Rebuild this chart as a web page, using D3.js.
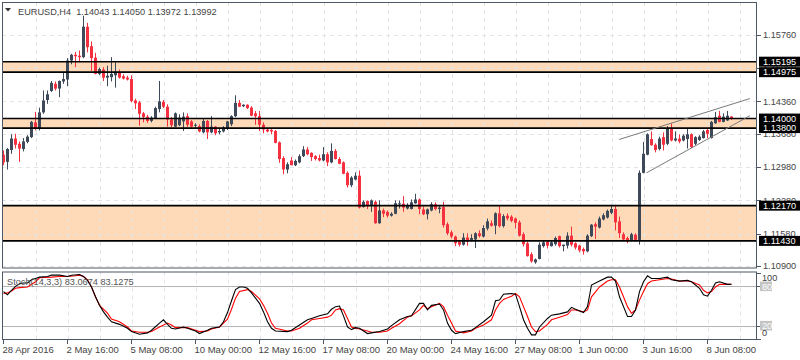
<!DOCTYPE html>
<html><head><meta charset="utf-8">
<script src="https://cdn.jsdelivr.net/npm/d3@7"></script>
<style>
html,body{margin:0;padding:0;background:#fff;}
svg{display:block;font-family:"Liberation Sans",Arial,sans-serif;}
</style></head><body>
<svg id="c" width="800" height="360"></svg>
<script>
// ---------------- DATA ----------------
const symbolTitle = "EURUSD,H4";
const lastOHLC = ["1.14043", "1.14050", "1.13972", "1.13992"];

const open = [1.1324,1.1309,1.1334,1.1358,1.1347,1.1336,1.1351,1.1361,1.1392,1.1379,
1.1413,1.1439,1.1458,1.1473,1.1463,1.1478,1.1482,1.1522,1.1534,1.1532,
1.1529,1.1593,1.1552,1.1528,1.1494,1.1503,1.1486,1.1487,1.1491,1.1498,
1.1489,1.1486,1.1483,1.1438,1.1434,1.1411,1.1404,1.1395,1.1401,1.1420,
1.1435,1.1425,1.1398,1.1383,1.1386,1.1394,1.1405,1.1394,1.1386,1.1384,
1.1371,1.1395,1.1371,1.1383,1.1371,1.1373,1.1380,1.1388,1.1405,1.1433,
1.1426,1.1429,1.1423,1.1411,1.1405,1.1387,1.1377,1.1376,1.1374,1.1350,
1.1317,1.1293,1.1312,1.1302,1.1308,1.1321,1.1335,1.1328,1.1321,1.1317,
1.1312,1.1325,1.1308,1.1332,1.1315,1.1308,1.1286,1.1260,1.1272,1.1280,
1.1214,1.1227,1.1218,1.1225,1.1180,1.1207,1.1204,1.1196,1.1200,1.1221,
1.1221,1.1211,1.1210,1.1222,1.1230,1.1209,1.1199,1.1207,1.1220,1.1210,
1.1214,1.1178,1.1161,1.1152,1.1142,1.1135,1.1150,1.1145,1.1146,1.1159,
1.1152,1.1169,1.1180,1.1175,1.1201,1.1174,1.1196,1.1194,1.1190,1.1182,
1.1157,1.1138,1.1115,1.1098,1.1105,1.1132,1.1142,1.1132,1.1136,1.1153,
1.1132,1.1133,1.1154,1.1138,1.1133,1.1126,1.1121,1.1153,1.1178,1.1171,
1.1188,1.1192,1.1202,1.1210,1.1184,1.1157,1.1149,1.1143,1.1156,1.1145,
1.1286,1.1324,1.1357,1.1345,1.1336,1.1361,1.1347,1.1380,1.1354,1.1358,
1.1354,1.1357,1.1367,1.1347,1.1355,1.1359,1.1376,1.1359,1.1390,1.1406,
1.1393,1.1396,1.14043];

const high = [1.1333,1.1338,1.1367,1.1368,1.1352,1.1359,1.1365,1.1395,1.1414,1.1423,
1.1459,1.1459,1.1479,1.1478,1.1480,1.1498,1.1527,1.1536,1.1540,1.1543,
1.1616,1.1601,1.1562,1.1538,1.1507,1.1508,1.1511,1.1529,1.1518,1.1503,
1.1493,1.1490,1.1491,1.1442,1.1437,1.1414,1.1408,1.1405,1.1425,1.1479,
1.1439,1.1430,1.1403,1.1413,1.1409,1.1413,1.1411,1.1397,1.1390,1.1388,
1.1401,1.1397,1.1405,1.1384,1.1380,1.1384,1.1395,1.1407,1.1449,1.1439,
1.1430,1.1430,1.1426,1.1416,1.1416,1.1392,1.1380,1.1378,1.1376,1.1352,
1.1321,1.1308,1.1319,1.1314,1.1325,1.1342,1.1340,1.1329,1.1323,1.1324,
1.1340,1.1329,1.1348,1.1336,1.1319,1.1310,1.1289,1.1279,1.1287,1.1291,
1.1228,1.1228,1.1230,1.1228,1.1228,1.1211,1.1207,1.1203,1.1228,1.1228,
1.1237,1.1222,1.1230,1.1242,1.1232,1.1215,1.1211,1.1224,1.1224,1.1216,
1.1225,1.1182,1.1165,1.1154,1.1144,1.1159,1.1159,1.1157,1.1161,1.1165,
1.1176,1.1190,1.1186,1.1203,1.1218,1.1199,1.1201,1.1197,1.1192,1.1186,
1.1161,1.1142,1.1119,1.1106,1.1140,1.1144,1.1144,1.1144,1.1152,1.1154,
1.1135,1.1161,1.1173,1.1140,1.1135,1.1129,1.1157,1.1178,1.1182,1.1194,
1.1201,1.1209,1.1219,1.1219,1.1194,1.1161,1.1152,1.1160,1.1159,1.1291,
1.1351,1.1369,1.1373,1.1348,1.1362,1.1371,1.1384,1.1390,1.1373,1.1367,
1.1367,1.1379,1.1369,1.1363,1.1365,1.1376,1.1380,1.1395,1.1414,1.1416,
1.1411,1.1416,1.14050];

const low = [1.1302,1.1293,1.1326,1.1337,1.1309,1.1331,1.1348,1.1359,1.1375,1.1375,
1.1410,1.1431,1.1456,1.1459,1.1445,1.1473,1.1468,1.1514,1.1508,1.1519,
1.1527,1.1539,1.1500,1.1493,1.1491,1.1479,1.1468,1.1478,1.1465,1.1484,
1.1482,1.1480,1.1434,1.1420,1.1385,1.1392,1.1391,1.1392,1.1399,1.1413,
1.1422,1.1383,1.1382,1.1382,1.1384,1.1374,1.1382,1.1380,1.1380,1.1371,
1.1369,1.1357,1.1369,1.1365,1.1367,1.1371,1.1376,1.1384,1.1403,1.1424,
1.1424,1.1420,1.1405,1.1387,1.1374,1.1369,1.1371,1.1367,1.1348,1.1307,
1.1283,1.1285,1.1302,1.1300,1.1306,1.1319,1.1323,1.1311,1.1312,1.1310,
1.1310,1.1300,1.1306,1.1314,1.1304,1.1283,1.1255,1.1256,1.1270,1.1211,
1.1213,1.1210,1.1204,1.1179,1.1179,1.1193,1.1192,1.1194,1.1199,1.1211,
1.1204,1.1209,1.1209,1.1221,1.1199,1.1197,1.1188,1.1205,1.1207,1.1201,
1.1171,1.1155,1.1148,1.1132,1.1131,1.1133,1.1133,1.1142,1.1128,1.1150,
1.1150,1.1165,1.1173,1.1157,1.1171,1.1171,1.1186,1.1182,1.1169,1.1152,
1.1131,1.1110,1.1097,1.1095,1.1104,1.1129,1.1127,1.1131,1.1133,1.1129,
1.1121,1.1127,1.1131,1.1125,1.1119,1.1114,1.1119,1.1151,1.1147,1.1169,
1.1186,1.1190,1.1199,1.1165,1.1149,1.1142,1.1138,1.1142,1.1142,1.1135,
1.1285,1.1323,1.1343,1.1329,1.1333,1.1333,1.1344,1.1352,1.1352,1.1348,
1.1352,1.1337,1.1338,1.1344,1.1353,1.1358,1.1359,1.1358,1.1389,1.1392,
1.1392,1.1395,1.13972];

const close = [1.1308,1.1336,1.1358,1.1345,1.1337,1.1352,1.1362,1.1393,1.1379,1.1413,
1.1438,1.1451,1.1475,1.1463,1.1479,1.1483,1.1522,1.1534,1.1531,1.1529,
1.1593,1.1550,1.1527,1.1494,1.1504,1.1486,1.1490,1.1494,1.1498,1.1486,
1.1484,1.1482,1.1437,1.1432,1.1410,1.1403,1.1395,1.1402,1.1422,1.1436,
1.1425,1.1398,1.1386,1.1411,1.1402,1.1404,1.1387,1.1383,1.1387,1.1373,
1.1395,1.1371,1.1383,1.1369,1.1374,1.1381,1.1394,1.1405,1.1433,1.1425,
1.1429,1.1422,1.1406,1.1405,1.1387,1.1377,1.1373,1.1373,1.1349,1.1315,
1.1293,1.1304,1.1302,1.1311,1.1321,1.1335,1.1325,1.1319,1.1315,1.1312,
1.1325,1.1308,1.1332,1.1315,1.1305,1.1284,1.1260,1.1276,1.1280,1.1213,
1.1225,1.1216,1.1228,1.1180,1.1207,1.1200,1.1196,1.1200,1.1222,1.1222,
1.1213,1.1217,1.1224,1.1230,1.1210,1.1199,1.1209,1.1220,1.1210,1.1213,
1.1176,1.1159,1.1152,1.1138,1.1135,1.1150,1.1142,1.1149,1.1159,1.1153,
1.1170,1.1184,1.1175,1.1201,1.1174,1.1195,1.1190,1.1185,1.1181,1.1154,
1.1136,1.1111,1.1100,1.1104,1.1135,1.1140,1.1133,1.1140,1.1149,1.1132,
1.1135,1.1154,1.1135,1.1129,1.1123,1.1121,1.1154,1.1177,1.1173,1.1190,
1.1197,1.1206,1.1210,1.1182,1.1159,1.1146,1.1142,1.1157,1.1145,1.1286,
1.1326,1.1367,1.1344,1.1334,1.1358,1.1345,1.1380,1.1354,1.1358,1.1352,
1.1364,1.1367,1.1340,1.1361,1.1362,1.1373,1.1368,1.1393,1.1403,1.1393,
1.1404,1.1406,1.13992];

const timeLabels = ["28 Apr 2016","2 May 16:00","5 May 08:00","10 May 00:00","12 May 16:00",
  "17 May 08:00","20 May 00:00","24 May 16:00","27 May 08:00","1 Jun 00:00","3 Jun 16:00","8 Jun 08:00"];
const timeLabelBars = [0,16,32,48,64,80,96,112,128,144,160,176];

const priceTicks = [1.15760,1.15060,1.14360,1.13680,1.12980,1.12280,1.11580,1.10900];
const zones = [[1.15195,1.14975],[1.14000,1.13800],[1.12170,1.11430]];
const levelLines = [1.15195,1.14975,1.14000,1.13800,1.12170,1.11430];

// rising wedge trend lines: [bar index, price]
const wedgeUpper = [[153.9,1.1356],[186.6,1.1442]];
const wedgeLower = [[160.75,1.1286],[186.6,1.1406]];

// Stochastic (14,3,3): [bar index, value]
const stochTitle = "Stoch(14,3,3) 83.0674 83.1275";
const stochK = [[0,72],[1,67],[2,74],[3,80],[4,84],[5,85],[6,85],[7,90],[8,92],[9,94],
[11,95],[12,97],[14,97],[16,95],[17,97],[19,98],[20,95],[21,89],[22,79],[23,64],
[24,51],[25,41],[26,33],[27,26],[29,22],[31,16],[32,11],[34,7],[36,9],[37,13],
[39,24],[40,29],[41,22],[42,16],[43,15],[45,18],[46,16],[48,12],[49,8],[51,13],
[52,16],[54,18],[55,26],[56,40],[57,58],[58,75],[59,79],[60,79],[61,77],[62,70],
[64,54],[65,41],[66,26],[67,16],[68,12],[71,11],[72,13],[74,21],[76,29],[77,31],
[79,35],[81,38],[82,45],[83,49],[84,50],[85,35],[86,18],[87,14],[88,17],[89,16],
[91,8],[92,9],[94,11],[96,15],[97,20],[99,29],[101,34],[102,35],[104,54],[105,54],
[106,44],[107,51],[109,53],[110,44],[111,24],[112,13],[113,8],[115,11],[117,13],[118,17],
[120,26],[122,36],[123,58],[124,59],[125,68],[127,69],[128,68],[129,49],[130,29],[131,16],
[132,6],[133,6],[134,18],[136,31],[137,36],[139,38],[141,41],[142,48],[143,45],[145,40],
[146,49],[147,82],[149,88],[151,94],[152,94],[153,88],[154,64],[155,49],[156,34],[157,34],
[158,44],[159,72],[160,87],[161,96],[162,92],[164,92],[166,94],[167,90],[169,88],[171,89],
[172,87],[174,77],[175,67],[176,65],[177,74],[178,85],[179,87],[181,83],[182,83.0674]];
const stochD = [[0,69],[1,70],[2,73],[3,77],[4,78],[6,79],[8,87],[9,93],[12,94],[14,95],
[16,95],[18,96],[19,97],[20,95],[21,90],[22,79],[23,64],[24,51],[26,39],[27,30],
[29,26],[31,18],[32,12],[34,10],[36,10],[37,11],[39,18],[41,24],[42,21],[43,17],
[45,17],[46,17],[48,13],[49,11],[51,12],[52,15],[54,18],[56,30],[57,45],[58,62],
[59,72],[61,75],[62,72],[64,61],[65,51],[66,39],[67,24],[68,16],[71,12],[72,12],
[74,16],[76,24],[77,29],[79,31],[81,33],[82,36],[83,44],[84,46],[85,44],[86,31],
[87,18],[88,16],[89,15],[91,12],[92,10],[94,10],[96,12],[97,16],[99,23],[101,33],
[102,35],[104,44],[105,51],[106,46],[107,49],[109,54],[110,49],[111,36],[112,24],[113,12],
[115,9],[117,12],[118,16],[120,21],[122,29],[123,44],[124,54],[125,60],[127,65],[128,69],
[129,64],[130,49],[131,34],[132,18],[133,11],[134,12],[136,22],[137,29],[139,33],[141,37],
[142,44],[143,44],[145,41],[146,44],[147,64],[149,79],[151,88],[152,90],[153,90],[154,79],
[155,64],[156,49],[157,39],[158,44],[159,59],[160,72],[161,84],[162,88],[164,90],[166,92],
[167,91],[169,88],[171,88],[172,87],[174,82],[175,74],[176,70],[177,72],[178,79],[179,83],
[181,83],[182,83.1275]];
const stochLevels = [80,20];
const stochAxisTicks = [100,80,20,0];

// ---------------- DRAW ----------------
const svg = d3.select("#c");
const L = 2, R = 757, mainTop = 2, mainBot = 268.5, stTop = 271.5, stBot = 340;
const FS = 9.2;
const bull = "#3e4a5a", bear = "#f5313f", frame = "#4e5864", textCol = "#444";

const x = d3.scaleLinear().domain([0, 182]).range([3.5, 731.5]);
const y = d3.scaleLinear().domain([1.1090, 1.1576]).range([266.1, 34.8]);
const ys = d3.scaleLinear().domain([0, 100]).range([338.8, 273.2]);

const defs = svg.append("defs");
defs.append("clipPath").attr("id","cm").append("rect").attr("x",L).attr("y",mainTop).attr("width",R-L).attr("height",mainBot-mainTop);
defs.append("clipPath").attr("id","cs").append("rect").attr("x",L).attr("y",stTop).attr("width",R-L).attr("height",stBot-stTop);

const gm = svg.append("g").attr("clip-path","url(#cm)");
const gs = svg.append("g").attr("clip-path","url(#cs)");

// zone fills
gm.selectAll("rect.zone").data(zones).join("rect").attr("class","zone")
  .attr("x", L).attr("width", R - L)
  .attr("y", d => y(d[0])).attr("height", d => y(d[1]) - y(d[0]))
  .attr("fill", "#ffdab9");

// grid
const gridBars = d3.range(8, 186, 8);
const gridStyle = s => s.attr("stroke", "#e4e4e4").attr("stroke-width", 1).attr("stroke-dasharray", "4,4");
gm.selectAll("line.vg").data(gridBars).join("line")
  .attr("x1", d => Math.round(x(d)) + 0.5).attr("x2", d => Math.round(x(d)) + 0.5)
  .attr("y1", mainTop).attr("y2", mainBot).call(gridStyle);
gm.selectAll("line.hg").data(priceTicks).join("line")
  .attr("x1", L).attr("x2", R)
  .attr("y1", d => Math.round(y(d)) + 0.5).attr("y2", d => Math.round(y(d)) + 0.5).call(gridStyle);
gs.selectAll("line.vg").data(gridBars).join("line")
  .attr("x1", d => Math.round(x(d)) + 0.5).attr("x2", d => Math.round(x(d)) + 0.5)
  .attr("y1", stTop).attr("y2", stBot).call(gridStyle);

// candles
const idx = d3.range(open.length);
const col = i => close[i] >= open[i] ? bull : bear;
gm.selectAll("line.wick").data(idx).join("line")
  .attr("x1", i => x(i)).attr("x2", i => x(i))
  .attr("y1", i => y(high[i])).attr("y2", i => y(low[i]))
  .attr("stroke", col).attr("stroke-width", 1);
gm.selectAll("rect.body").data(idx).join("rect")
  .attr("x", i => x(i) - 1.5).attr("width", 3)
  .attr("y", i => y(Math.max(open[i], close[i])))
  .attr("height", i => Math.max(1, Math.abs(y(open[i]) - y(close[i]))))
  .attr("fill", col);

// level lines
gm.selectAll("line.lvl").data(levelLines).join("line")
  .attr("x1", L).attr("x2", R)
  .attr("y1", d => y(d)).attr("y2", d => y(d))
  .attr("stroke", "#000").attr("stroke-width", 1.6);

// wedge
const wl = d3.line().x(d => x(d[0])).y(d => y(d[1]));
[wedgeUpper, wedgeLower].forEach(w => gm.append("path").attr("d", wl(w))
  .attr("fill", "none").attr("stroke", "#7a7a7a").attr("stroke-width", 1));

// stochastic levels
gs.selectAll("line.sl").data(stochLevels).join("line")
  .attr("x1", L).attr("x2", R)
  .attr("y1", d => Math.round(ys(d)) + 0.5).attr("y2", d => Math.round(ys(d)) + 0.5)
  .attr("stroke", "#b4b4b4").attr("stroke-width", 1);

// stoch title
svg.append("text").attr("x", 7).attr("y", 284.5).attr("font-size", FS).attr("fill", "#555")
  .text(stochTitle);

const sl = d3.line().x(d => x(d[0])).y(d => ys(d[1]));
gs.append("path").attr("d", sl(stochD)).attr("fill","none").attr("stroke","#ff0000").attr("stroke-width",1.1);
gs.append("path").attr("d", sl(stochK)).attr("fill","none").attr("stroke","#000").attr("stroke-width",1.1);

// frames
const fr = svg.append("g").attr("stroke", frame).attr("stroke-width", 1).attr("fill", "none");
fr.append("rect").attr("x", L + 0.5).attr("y", mainTop + 0.5).attr("width", R - L - 1).attr("height", mainBot - mainTop - 1);
fr.append("rect").attr("x", L + 0.5).attr("y", stTop + 0.5).attr("width", R - L - 1).attr("height", stBot - stTop - 1);

// right price axis
const ax = svg.append("g");
ax.selectAll("line.pt").data(priceTicks).join("line")
  .attr("x1", R).attr("x2", R + 4)
  .attr("y1", d => Math.round(y(d)) + 0.5).attr("y2", d => Math.round(y(d)) + 0.5)
  .attr("stroke", frame);
ax.selectAll("text.pt").data(priceTicks).join("text")
  .attr("x", R + 6).attr("y", d => y(d) + 3.3)
  .attr("font-size", FS).attr("fill", textCol)
  .text(d => d.toFixed(5));
// boxed level labels
const lb = ax.selectAll("g.lb").data(levelLines).join("g");
lb.append("rect").attr("x", R + 2).attr("width", 800 - R - 2)
  .attr("y", d => y(d) - 5).attr("height", 10).attr("fill", "#000");
lb.append("text").attr("x", R + 6).attr("y", d => y(d) + 3.3)
  .attr("font-size", FS).attr("fill", "#fff").text(d => d.toFixed(5));

// stoch axis
ax.selectAll("line.st").data(stochAxisTicks).join("line")
  .attr("x1", R).attr("x2", R + 4)
  .attr("y1", d => Math.round(ys(d)) + 0.5).attr("y2", d => Math.round(ys(d)) + 0.5)
  .attr("stroke", frame);
stochAxisTicks.forEach(v => {
  let ty = ys(v);
  if (v === 100) ty = 278; if (v === 0) ty = 332.5;
  const boxed = stochLevels.includes(v);
  if (boxed) {
    ax.append("rect").attr("x", R + 3).attr("y", ty - 4.8).attr("width", 12).attr("height", 9.6).attr("fill", "#c4c4c4");
  }
  ax.append("text").attr("x", R + 5).attr("y", ty + 3.3).attr("font-size", FS)
    .attr("fill", boxed ? "#fff" : textCol).text(v);
});

// bottom time axis
ax.selectAll("line.tt").data(timeLabelBars).join("line")
  .attr("x1", d => Math.round(x(d)) - 0.5).attr("x2", d => Math.round(x(d)) - 0.5)
  .attr("y1", stBot).attr("y2", stBot + 4).attr("stroke", frame);
ax.selectAll("text.tt").data(timeLabelBars).join("text")
  .attr("x", (d) => x(d) - 1).attr("y", 352.5)
  .attr("font-size", FS + 0.3).attr("fill", textCol)
  .text((d, i) => timeLabels[i]);

// title
svg.append("path").attr("d", "M5,8 L11,8 L8,11.5 Z").attr("fill", "#333");
svg.append("text").attr("x", 18).attr("y", 14.5).attr("font-size", FS)
  .attr("fill", textCol).style("white-space", "pre")
  .text(symbolTitle + "  " + lastOHLC.join(" "));
</script>
</body></html>
